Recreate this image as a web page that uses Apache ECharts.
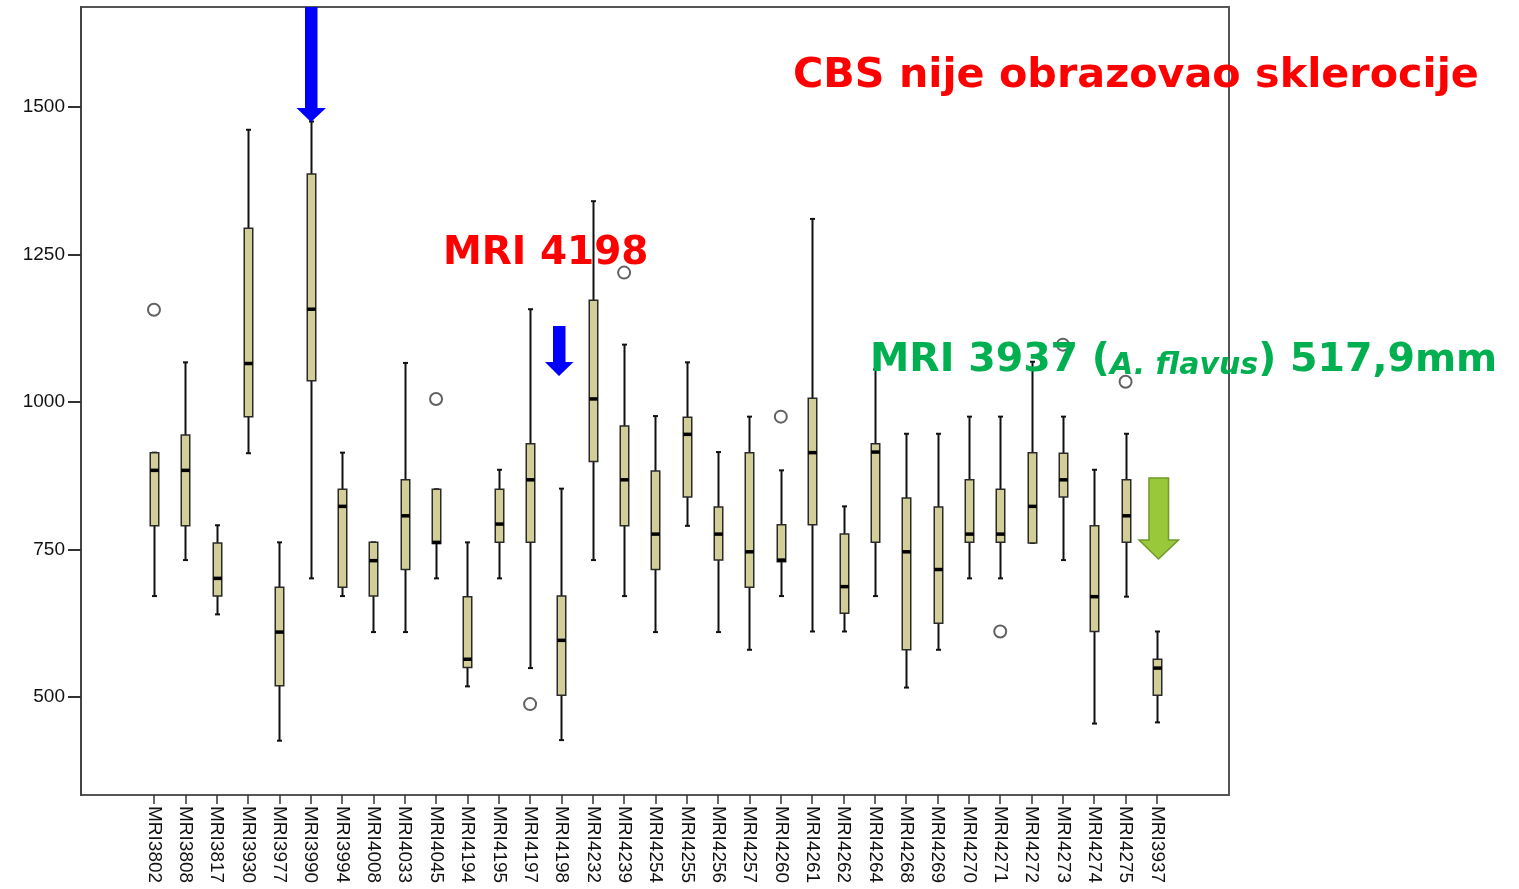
<!DOCTYPE html>
<html>
<head>
<meta charset="utf-8">
<script src="https://cdn.jsdelivr.net/npm/echarts@6/dist/echarts.min.js"></script>
<style>
html,body{margin:0;padding:0;background:#ffffff;}
#chart{width:1519px;height:889px;}
</style>
</head>
<body>
<div id="chart"></div>
<script>
// ---- data ----
const categories = ['MRI3802','MRI3808','MRI3817','MRI3930','MRI3977','MRI3990','MRI3994','MRI4008','MRI4033','MRI4045',
  'MRI4194','MRI4195','MRI4197','MRI4198','MRI4232','MRI4239','MRI4254','MRI4255','MRI4256','MRI4257',
  'MRI4260','MRI4261','MRI4262','MRI4264','MRI4268','MRI4269','MRI4270','MRI4271','MRI4272','MRI4273',
  'MRI4274','MRI4275','MRI3937'];
const minValues    = [671, 732, 640, 913, 426, 701, 671, 610, 610, 701, 518, 701, 549, 427, 732, 671, 610, 790, 610, 580, 671, 611, 611, 671, 516, 580, 701, 701, 761, 732, 455, 670, 457];
const q1Values     = [790, 790, 671, 975, 519, 1036, 686, 671, 716, 760, 550, 762, 762, 503, 899, 790, 716, 839, 732, 686, 729, 792, 642, 762, 580, 625, 762, 762, 761, 839, 611, 762, 503];
const medianValues = [884, 884, 701, 1065, 610, 1157, 823, 731, 807, 762, 564, 793, 868, 596, 1005, 868, 776, 945, 776, 746, 732, 914, 687, 915, 746, 716, 776, 776, 823, 868, 670, 807, 549];
const q3Values     = [914, 944, 761, 1294, 686, 1386, 852, 762, 868, 852, 670, 852, 929, 671, 1172, 959, 883, 974, 822, 914, 792, 1006, 776, 929, 837, 822, 868, 852, 914, 913, 790, 868, 564];
const maxValues    = [914, 1067, 791, 1461, 762, 1475, 914, 762, 1066, 852, 762, 885, 1157, 853, 1340, 1097, 976, 1067, 915, 975, 884, 1310, 823, 1055, 946, 946, 975, 975, 1068, 975, 885, 946, 611];
const outlierCategories = ['MRI3802','MRI4045','MRI4197','MRI4239','MRI4260','MRI4271','MRI4273','MRI4275'];
const outlierValues     = [1156, 1005, 488, 1219, 975, 611, 1097, 1034];
const yTickValues = [500, 750, 1000, 1250, 1500];
const titleText = 'CBS nije obrazovao sklerocije';
const note1Text = 'MRI 4198';
const note2Parts = ['MRI 3937 (', 'A. flavus', ') 517,9mm'];

// ---- chart ----
const Y_MIN = 334, Y_MAX = 1669;
const boxData = categories.map((c, i) => [i, minValues[i], q1Values[i], medianValues[i], q3Values[i], maxValues[i]]);
const outlierData = outlierCategories.map((c, i) => [c, outlierValues[i]]);

const chart = echarts.init(document.getElementById('chart'), null, {renderer: 'canvas'});

function renderBox(params, api) {
  const idx = api.value(0);
  const pMin = api.coord([idx, api.value(1)]);
  const pQ1 = api.coord([idx, api.value(2)]);
  const pMed = api.coord([idx, api.value(3)]);
  const pQ3 = api.coord([idx, api.value(4)]);
  const pMax = api.coord([idx, api.value(5)]);
  const cx = Math.round(pMed[0]) + 0.5;
  const bw = 8.5, cw = 5;
  const wStyle = {stroke: '#111', lineWidth: 2};
  return {
    type: 'group',
    children: [
      {type: 'line', shape: {x1: cx, y1: pMax[1], x2: cx, y2: pQ3[1]}, style: wStyle},
      {type: 'line', shape: {x1: cx, y1: pQ1[1], x2: cx, y2: pMin[1]}, style: wStyle},
      {type: 'line', shape: {x1: cx - cw / 2, y1: pMax[1], x2: cx + cw / 2, y2: pMax[1]}, style: wStyle},
      {type: 'line', shape: {x1: cx - cw / 2, y1: pMin[1], x2: cx + cw / 2, y2: pMin[1]}, style: wStyle},
      {type: 'rect', shape: {x: cx - bw / 2, y: pQ3[1], width: bw, height: pQ1[1] - pQ3[1]},
        style: {fill: '#d3ce97', stroke: '#2a2a2a', lineWidth: 1.5}},
      {type: 'line', shape: {x1: cx - bw / 2, y1: pMed[1], x2: cx + bw / 2, y2: pMed[1]},
        style: {stroke: '#000', lineWidth: 3.5}}
    ]
  };
}

const option = {
  backgroundColor: '#ffffff',
  animation: false,
  grid: [
    {left: 81, top: 7, width: 1148, height: 788, show: true, borderColor: '#555', borderWidth: 2, backgroundColor: 'transparent'},
    {left: 138.3, top: 7, width: 1034.3, height: 788}
  ],
  xAxis: [
    {type: 'value', gridIndex: 0, show: false, min: 0, max: 1},
    {type: 'category', gridIndex: 1, data: categories, boundaryGap: true,
      axisLine: {show: false},
      axisTick: {show: true, alignWithLabel: true, length: 9, lineStyle: {color: '#333', width: 1.5}},
      axisLabel: {rotate: -90, margin: 11, interval: 0, color: '#111', fontFamily: 'Liberation Sans', fontSize: 19},
      splitLine: {show: false}}
  ],
  yAxis: [
    {type: 'value', gridIndex: 0, min: Y_MIN, max: Y_MAX,
      axisLine: {show: true, lineStyle: {color: '#444', width: 2}},
      axisTick: {show: true, length: 13, customValues: yTickValues, lineStyle: {color: '#333', width: 2}},
      axisLabel: {customValues: yTickValues, margin: 16, color: '#111', fontFamily: 'Liberation Sans', fontSize: 19,
        formatter: function (v) { return String(v); }},
      splitLine: {show: false}},
    {type: 'value', gridIndex: 1, min: Y_MIN, max: Y_MAX, show: false, splitLine: {show: false}}
  ],
  series: [
    {type: 'custom', xAxisIndex: 1, yAxisIndex: 1, data: boxData, renderItem: renderBox,
      encode: {x: 0, y: [1, 2, 3, 4, 5]}, z: 3},
    {type: 'scatter', xAxisIndex: 1, yAxisIndex: 1, data: outlierData, symbol: 'circle', symbolSize: 12,
      itemStyle: {color: '#ffffff', borderColor: '#3a3a3a', borderWidth: 2}, z: 4}
  ],
  graphic: [
    {type: 'text', z: 100, style: {x: 793, y: 76, text: titleText, fill: '#ff0000',
      font: 'bold 41.3px "DejaVu Sans"', verticalAlign: 'middle', align: 'left'}},
    {type: 'text', z: 100, style: {x: 443, y: 254, text: note1Text, fill: '#ff0000',
      font: 'bold 39px "DejaVu Sans"', verticalAlign: 'middle', align: 'left'}},
    {type: 'text', z: 100, style: {x: 870, y: 357, align: 'left', verticalAlign: 'middle',
      text: '{n|' + note2Parts[0] + '}{i|' + note2Parts[1] + '}{n|' + note2Parts[2] + '}',
      rich: {
        n: {fill: '#00b050', fontFamily: 'DejaVu Sans', fontWeight: 'bold', fontSize: 39.5, lineHeight: 48, verticalAlign: 'bottom'},
        i: {fill: '#00b050', fontFamily: 'DejaVu Sans', fontWeight: 'bold', fontStyle: 'italic', fontSize: 30, lineHeight: 48, verticalAlign: 'bottom'}
      }}},
    {type: 'polygon', z: 90, shape: {points: [[305, 7], [317.5, 7], [317.5, 108], [326, 108], [311, 122], [296.5, 108], [305, 108]]},
      style: {fill: '#0000ff'}},
    {type: 'polygon', z: 90, shape: {points: [[553, 326], [565.5, 326], [565.5, 362], [573.5, 362], [559, 376], [545, 362], [553, 362]]},
      style: {fill: '#0000ff'}},
    {type: 'polygon', z: 90, shape: {points: [[1149, 478], [1168.5, 478], [1168.5, 540], [1178.5, 540], [1158.5, 559], [1139, 540], [1149, 540]]},
      style: {fill: '#99c93a', stroke: '#6f9a2a', lineWidth: 1.5}}
  ]
};
chart.setOption(option);
</script>
</body>
</html>
